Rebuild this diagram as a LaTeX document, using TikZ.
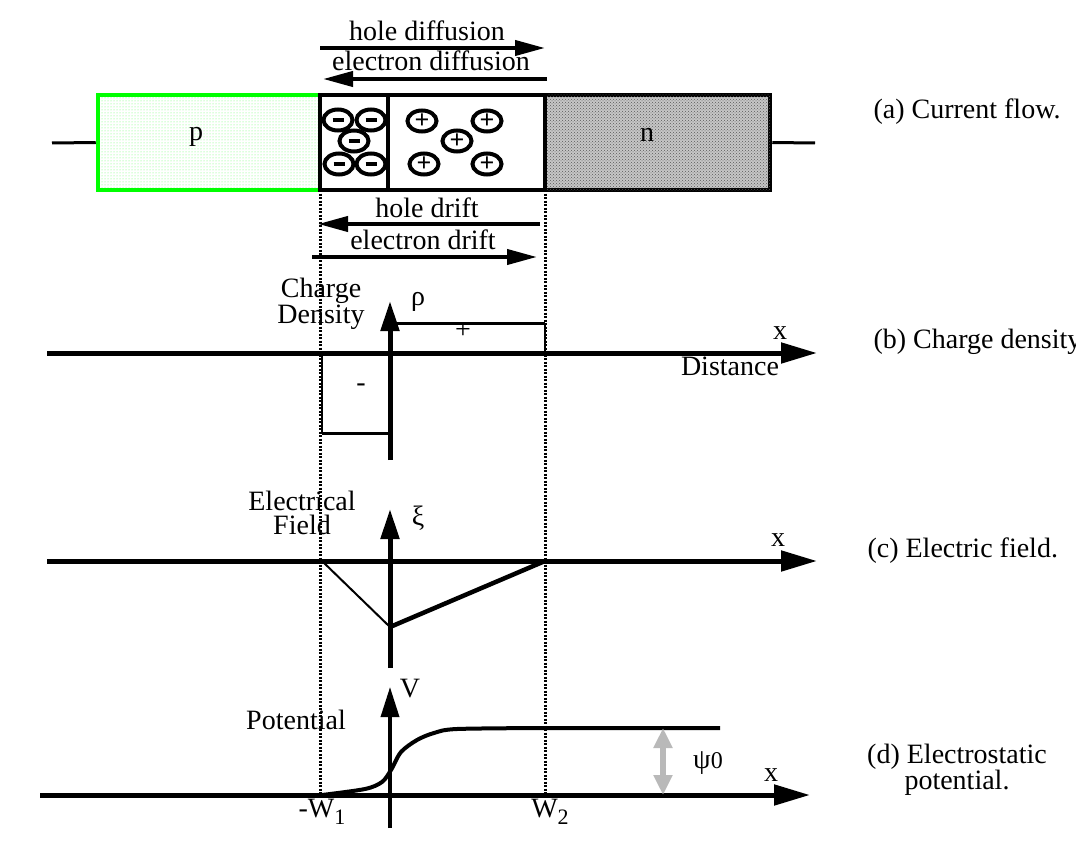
\documentclass[tikz,border=0pt]{standalone}
\usepackage{fontspec}
\setmainfont{Liberation Serif}
\usetikzlibrary{shapes.geometric, arrows.meta, patterns}
\tikzstyle{region} = [rectangle, line width=4.5pt, inner sep=0pt, minimum height=95pt]
\tikzstyle{ptype} = [region, draw=green, pattern=dots, pattern color=green!60]
\tikzstyle{ntype} = [region, draw=black, fill=gray!45, postaction={pattern=crosshatch dots, pattern color=gray!70!black}]
\tikzstyle{depl} = [region, draw=black]
\tikzstyle{ion} = [ellipse, draw=black, line width=4pt, minimum width=29pt, minimum height=21pt, inner sep=0pt, font=\bfseries\fontsize{26}{26}\selectfont]
\tikzstyle{wire} = [line width=3pt]
\tikzstyle{flow} = [line width=4pt, -{Triangle[length=30pt,width=15pt]}]
\tikzstyle{axis} = [line width=5pt, -{Triangle[length=36pt,width=20pt]}]
\tikzstyle{vaxis} = [line width=5pt, -{Triangle[length=30pt,width=18pt]}]
\tikzstyle{edge} = [dash pattern=on 2pt off 1.5pt, line width=3pt]
\tikzstyle{psiarrow} = [line width=6pt, gray!55, {Triangle[length=20pt,width=18pt]}-{Triangle[length=20pt,width=18pt]}]

\begin{document}
\begin{tikzpicture}[x=1pt, y=-1pt, font=\fontsize{28}{24}\selectfont]
    \useasboundingbox (0,0) rectangle (1076,848);

    \coordinate (w1top) at (320,190);
    \coordinate (w1bot) at (320,795);
    \coordinate (w2top) at (545,190);
    \coordinate (w2bot) at (545,795);
    \draw [edge] (w1top) -- (w1bot);
    \draw [edge] (w2top) -- (w2bot);

    \node (pside) [ptype, minimum width=222pt] at (209,142.5) {};
    \node (nside) [ntype, minimum width=225pt] at (657.5,142.5) {};
    \node (negreg) [depl, minimum width=68pt] at (354,142.5) {};
    \node (posreg) [depl, minimum width=157pt] at (466.5,142.5) {};
    \node (plab) at (196,137) {p};
    \node (nlab) at (647,135) {n};

    \coordinate (leadp) at (52,143);
    \coordinate (leadn) at (815,143);
    \draw [wire] (leadp) -- (pside.west);
    \draw [wire] (nside.east) -- (leadn);

    \node (neg1) [ion] at (338,120) {\rule{11pt}{4pt}};
    \node (neg2) [ion] at (371,120) {\rule{11pt}{4pt}};
    \node (neg3) [ion] at (354,141) {\rule{11pt}{4pt}};
    \node (neg4) [ion] at (339,164) {\rule{11pt}{4pt}};
    \node (neg5) [ion] at (371,164) {\rule{11pt}{4pt}};
    \node (pos1) [ion] at (422,121) {+};
    \node (pos2) [ion] at (487,121) {+};
    \node (pos3) [ion] at (457,141) {+};
    \node (pos4) [ion] at (424,164) {+};
    \node (pos5) [ion] at (487,164) {+};

    \coordinate (hdifA) at (320,48);
    \coordinate (hdifB) at (545,48);
    \coordinate (edifA) at (547,79);
    \coordinate (edifB) at (323,79);
    \coordinate (hdrA) at (540,224);
    \coordinate (hdrB) at (318,224);
    \coordinate (edrA) at (312,257);
    \coordinate (edrB) at (537,257);
    \draw [flow] (hdifA) -- (hdifB);
    \draw [flow] (edifA) -- (edifB);
    \draw [flow] (hdrA) -- (hdrB);
    \draw [flow] (edrA) -- (edrB);
    \node (hdif) at (427,31) {hole diffusion};
    \node (edif) at (431,61) {electron diffusion};
    \node (hdr) at (427,208) {hole drift};
    \node (edr) at (423,240) {electron drift};

    \coordinate (cxL) at (47,353);
    \coordinate (cxR) at (817,353);
    \coordinate (cyB) at (390,460);
    \coordinate (cyT) at (390,301);
    \coordinate (rhoP1) at (390,323);
    \coordinate (rhoP2) at (545,323);
    \coordinate (rhoP3) at (545,353);
    \coordinate (rhoN1) at (322,353);
    \coordinate (rhoN2) at (322,433);
    \coordinate (rhoN3) at (390,433);
    \draw [line width=3pt] (rhoP1) -- (rhoP2);
    \draw [line width=2pt] (rhoP2) -- (rhoP3);
    \draw [line width=2pt] (rhoN1) -- (rhoN2);
    \draw [line width=3pt] (rhoN2) -- (rhoN3);
    \draw [axis] (cxL) -- (cxR);
    \draw [vaxis] (cyB) -- (cyT);
    \node (chlab) [align=center, font=\fontsize{28}{24}\selectfont] at (321,304) {Charge\\Density};
    \node (rho) at (418,302) {ρ};
    \node (plus) at (463,331) {+};
    \node (minus) at (361,388) {-};
    \node (cx) at (780,333) {x};
    \node (dist) at (730,366) {Distance};

    \coordinate (fxL) at (47,561);
    \coordinate (fxR) at (817,561);
    \coordinate (fyB) at (390,668);
    \coordinate (fyT) at (390,509);
    \coordinate (fL) at (322,561);
    \coordinate (fV) at (390,627);
    \coordinate (fR) at (545,561);
    \draw [line width=2pt] (fL) -- (fV);
    \draw [line width=4.5pt] (fV) -- (fR);
    \draw [axis] (fxL) -- (fxR);
    \draw [vaxis] (fyB) -- (fyT);
    \node (eflab) [align=center, font=\fontsize{28}{24}\selectfont] at (302,513) {Electrical\\Field};
    \node (xi) at (418,518) {ξ};
    \node (fx) at (778,540) {x};

    \coordinate (vxL) at (40,795);
    \coordinate (vxR) at (810,795);
    \coordinate (vyB) at (390,828);
    \coordinate (vyT) at (390,687);
    \coordinate (vEnd) at (720,728);
    \coordinate (psiT) at (663,728);
    \coordinate (psiB) at (663,795);
    \draw [axis] (vxL) -- (vxR);
    \draw [line width=3.5pt, -{Triangle[length=30pt,width=18pt]}] (vyB) -- (vyT);
    \draw [line width=4pt, line join=round] plot [smooth, tension=0.5] coordinates {(322,795) (365,789) (382,782) (391,770) (401,752) (417,740) (434,733) (457,729) (545,728)} -- (vEnd);
    \draw [psiarrow] (psiT) -- (psiB);
    \node (vlab) at (410,689) {V};
    \node (potlab) at (296,720) {Potential};
    \node (psi) at (708,763) {ψ{\fontsize{24}{24}\selectfont 0}};
    \node (vx) at (771,775) {x};
    \node (w1lab) at (322,812) {-W\raisebox{-7pt}{\fontsize{22}{22}\selectfont 1}};
    \node (w2lab) at (550,812) {W\raisebox{-7pt}{\fontsize{22}{22}\selectfont 2}};

    \node (capa) [anchor=west] at (870,112) {(a) Current flow.};
    \node (capb) [anchor=west] at (870,342) {(b) Charge density};
    \node (capc) [anchor=west] at (864,551) {(c) Electric field.};
    \node (capd) [align=center, font=\fontsize{28}{26}\selectfont] at (957,770) {(d) Electrostatic\\potential.};
\end{tikzpicture}
\end{document}
